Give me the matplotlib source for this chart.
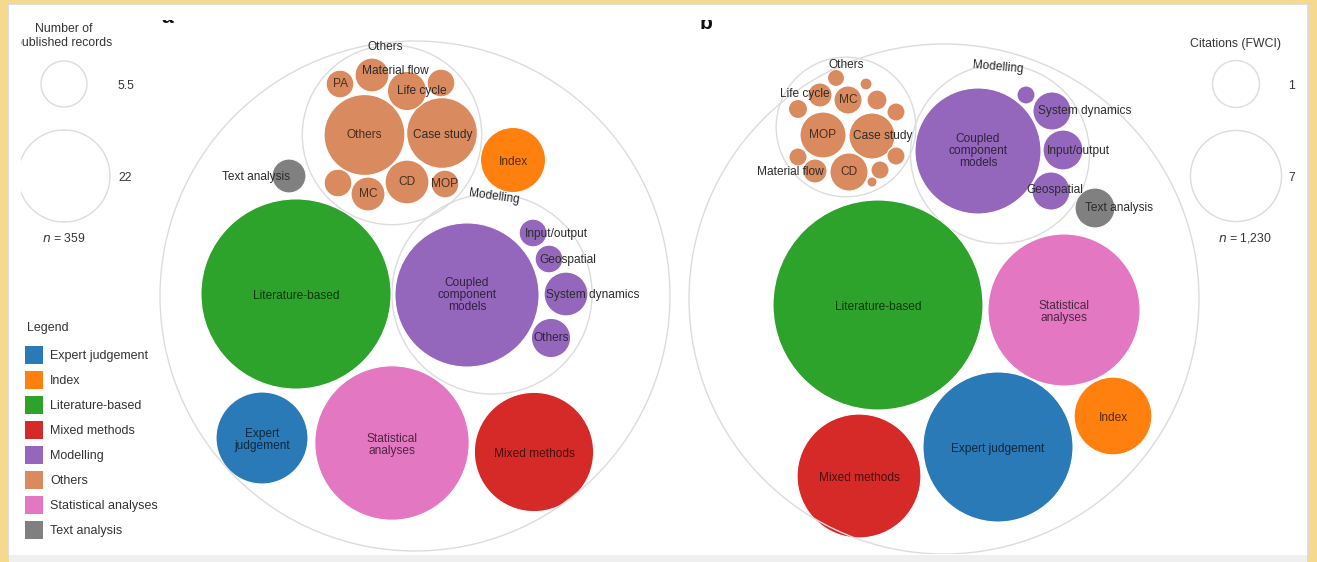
import matplotlib
matplotlib.use("Agg")
import matplotlib.pyplot as plt
from matplotlib.patches import Circle, Rectangle
import numpy as np

plt.rcParams['font.family'] = ['Liberation Sans', 'DejaVu Sans']

# method categories and their colours
categories = ["Expert judgement", "Index", "Literature-based", "Mixed methods",
              "Modelling", "Others", "Statistical analyses", "Text analysis"]
cat_colors = ["#2a7ab8", "#ff800e", "#2ea32c", "#d62a28",
              "#9467bd", "#d98b5f", "#e377c2", "#808080"]

# ---- panel a: number of published records ----
a_main_names = ["Literature-based", "Statistical\nanalyses", "Expert\njudgement",
                "Mixed methods", "Index", "Text analysis"]
a_main_cats = ["Literature-based", "Statistical analyses", "Expert judgement",
               "Mixed methods", "Index", "Text analysis"]
a_main_values = [94, 62, 22, 37, 11, 3]
a_model_names = ["Coupled\ncomponent\nmodels", "Input/output", "Geospatial",
                 "System dynamics", "Others"]
a_model_values = [54, 2, 2, 5, 4]
a_other_names = ["Others", "Case study", "PA", "Material flow", "Life cycle",
                 "", "", "MC", "CD", "MOP"]
a_other_values = [17, 13, 2, 3, 4, 2, 2, 3, 5, 2]
a_legend_values = [5.5, 22]
a_legend_labels = ["5.5", "22"]
a_n = "359"

# ---- panel b: citations (FWCI) ----
b_main_names = ["Literature-based", "Statistical\nanalyses", "Expert judgement",
                "Mixed methods", "Index", "Text analysis"]
b_main_cats = a_main_cats
b_main_values = [81.7, 31.6, 30.4, 17.3, 4.4, 0.62]
b_model_names = ["Coupled\ncomponent\nmodels", "System dynamics", "Input/output",
                 "Geospatial", ""]
b_model_values = [18.2, 0.54, 0.62, 0.54, 0.06]
b_other_names = ["MOP", "Case study", "MC", "CD", "Life cycle", "Material flow",
                 "", "", "", "", "", "", "", "", ""]
b_other_values = [0.94, 0.94, 0.22, 0.54, 0.14, 0.14, 0.05, 0.018, 0.08,
                  0.06, 0.07, 0.06, 0.06, 0.06, 0.011]
b_legend_values = [1, 7]
b_legend_labels = ["1", "7"]
b_n = "1,230"

# layout of the packing (pixel centres), kept apart from the data
a_main_xy = [(296, 294), (392, 443), (262, 438), (534, 452), (513, 160), (289, 176)]
a_model_xy = [(467, 295), (533, 233), (549, 259), (566, 294), (551, 338)]
a_other_xy = [(364.5, 135), (442, 133), (340, 84), (372, 75), (407, 91),
              (441, 83), (338, 183), (368, 194), (407, 182), (445, 184)]
a_model_c, a_other_c = (492, 294), (392, 135)
a_outer = ((415, 296), 255)
a_group_labels = [(385, 47, 0, "Others"), (494, 197, -8, "Modelling")]

b_main_xy = [(878, 305), (1064, 310), (998, 447), (859, 476), (1113, 416), (1095, 208)]
b_model_xy = [(978, 151), (1052, 111), (1063, 150), (1051, 191), (1026, 95)]
b_other_xy = [(823, 135), (872, 136), (848, 100), (849, 172), (820, 95), (815, 171),
              (836, 78), (866, 84), (877, 100), (896, 112), (798, 109),
              (798, 157), (896, 156), (880, 170), (872, 182)]
b_model_c, b_other_c = (1000, 154), (846, 127)
b_outer = ((944, 299), 255)
b_group_labels = [(846, 65, 0, "Others"), (998, 67, -5, "Modelling")]

# labels that sit beside their circle: name -> (x, y, ha)
a_label_pos = {"Text analysis": (222, 177, "left"), "Material flow": (395, 71, "center"),
               "Life cycle": (422, 91, "center"), "Input/output": (525, 234, "left"),
               "Geospatial": (539, 260, "left"), "System dynamics": (546, 295, "left"),
               "Case study": (443, 135, "center")}
b_label_pos = {"Text analysis": (1085, 208, "left"), "Life cycle": (805, 94, "center"),
               "Case study": (883, 136, "center"), "Material flow": (790, 172, "center"),
               "System dynamics": (1038, 111, "left"), "Input/output": (1047, 151, "left"),
               "Geospatial": (1026, 190, "left")}


def size_scale(v, ref_v, ref_r, power):
    return ref_r * (np.asarray(v, dtype=float) / ref_v) ** power


def dark(color, f=0.33):
    rgb = np.array(matplotlib.colors.to_rgb(color))
    return tuple(rgb * f)


fig = plt.figure(figsize=(13.17, 5.62), dpi=100, facecolor="#f4d98e")
ax = fig.add_axes([0, 0, 1, 1])
ax.set_xlim(0, 1317)
ax.set_ylim(562, 0)
ax.axis("off")

ax.add_patch(Rectangle((8, 4), 1300, 553, facecolor="white", edgecolor="#d8d8d8", lw=1.2))
ax.add_patch(Rectangle((9, 555), 1298, 7, facecolor="#efefef", edgecolor="none"))
clip = Rectangle((21, 5), 1285, 549, transform=ax.transData, visible=False)
ax.add_patch(clip)
letter_clip = Rectangle((0, 20), 1317, 20, transform=ax.transData, visible=False)
ax.add_patch(letter_clip)

cmap = dict(zip(categories, cat_colors))
lbl_size = 8.6


def add_circle(xy, r, face, edge="white", lw=0.8):
    c = Circle(xy, r, facecolor=face, edgecolor=edge, lw=lw)
    ax.add_patch(c)
    c.set_clip_path(clip)
    return c


def add_text(x, y, s, **kw):
    kw.setdefault("fontsize", lbl_size)
    kw.setdefault("ha", "center")
    kw.setdefault("va", "center")
    t = ax.text(x, y, s, clip_on=True, **kw)
    t.set_clip_path(clip)
    return t


def enclose(center, xys, rs, pad):
    d = [np.hypot(x - center[0], y - center[1]) + r for (x, y), r in zip(xys, rs)]
    return max(d) + pad


def draw_group(names, cats, values, xys, label_pos, scale, dy=0):
    rs = scale(values)
    for name, cat, (x, y), r in zip(names, cats, xys, rs):
        add_circle((x, y), r, cmap[cat])
        if not name:
            continue
        key = name.replace("\n", " ")
        if key in label_pos:
            lx, ly, ha = label_pos[key]
            add_text(lx, ly, name, ha=ha, color="#2b2b2b")
        else:
            add_text(x, y + dy, name, color=dark(cmap[cat]), linespacing=1.05)
    return rs


def draw_panel(main_names, main_cats, main_values, main_xy,
               model_names, model_values, model_xy, model_c,
               other_names, other_values, other_xy, other_c, outer,
               group_labels, label_pos, scale):
    # modelling and others sub-packs
    r_model = enclose(model_c, model_xy, scale(model_values), 3)
    add_circle(model_c, r_model, "none", edge="#dcdcdc", lw=1)
    draw_group(model_names, ["Modelling"] * len(model_names), model_values,
               model_xy, label_pos, scale)
    r_other = enclose(other_c, other_xy, scale(other_values), 3)
    add_circle(other_c, r_other, "none", edge="#dcdcdc", lw=1)
    draw_group(other_names, ["Others"] * len(other_names), other_values,
               other_xy, label_pos, scale)
    for x, y, rot, s in group_labels:
        add_text(x, y, s, color="#2b2b2b", rotation=rot)
    # top-level methods
    draw_group(main_names, main_cats, main_values, main_xy, label_pos, scale, dy=2)
    add_circle(outer[0], outer[1], "none", edge="#dcdcdc", lw=1)


scale_a = lambda v: size_scale(v, a_legend_values[0], 23, 0.5)
scale_b = lambda v: size_scale(v, b_legend_values[0], 23.5, 0.34)

draw_panel(a_main_names, a_main_cats, a_main_values, a_main_xy,
           a_model_names, a_model_values, a_model_xy, a_model_c,
           a_other_names, a_other_values, a_other_xy, a_other_c, a_outer,
           a_group_labels, a_label_pos, scale_a)
draw_panel(b_main_names, b_main_cats, b_main_values, b_main_xy,
           b_model_names, b_model_values, b_model_xy, b_model_c,
           b_other_names, b_other_values, b_other_xy, b_other_c, b_outer,
           b_group_labels, b_label_pos, scale_b)

# size legends
for x, title, vals, labs, ys, n, sc, lx, nx in [
        (64, "Number of\npublished records", a_legend_values, a_legend_labels, (84, 176), a_n, scale_a, 118, 64),
        (1236, "Citations (FWCI)", b_legend_values, b_legend_labels, (84, 176), b_n, scale_b, 1288, 1245)]:
    add_text(x, 36 if "\n" in title else 44, title, color="#333333", fontsize=8.8, linespacing=1.25)
    for v, lab, y in zip(vals, labs, ys):
        r = sc([v])[0]
        add_circle((x, y), r, "none", edge="#dcdcdc", lw=1)
        add_text(lx, y + 2, lab, color="#333333", fontsize=8.8, ha="left")
    add_text(nx, 238, "$n$ = " + n, color="#333333", fontsize=8.8)

# colour legend
add_text(27, 328, "Legend", ha="left", color="#333333", fontsize=9)
for i, (cat, col) in enumerate(zip(categories, cat_colors)):
    y = 355 + 25 * i
    ax.add_patch(Rectangle((25, y - 9), 18, 18, facecolor=col, edgecolor="none"))
    add_text(50, y + 1, cat, ha="left", color="#333333", fontsize=9)

# panel letters, cut at the top as in the source
for x, y, s in [(167, 23, "a"), (706, 29, "b")]:
    t = ax.text(x, y, s, fontsize=15, fontweight="bold", ha="center",
                va="baseline", color="#111111", clip_on=True)
    t.set_clip_path(letter_clip)

fig.savefig("out.png", dpi=100, facecolor=fig.get_facecolor())
